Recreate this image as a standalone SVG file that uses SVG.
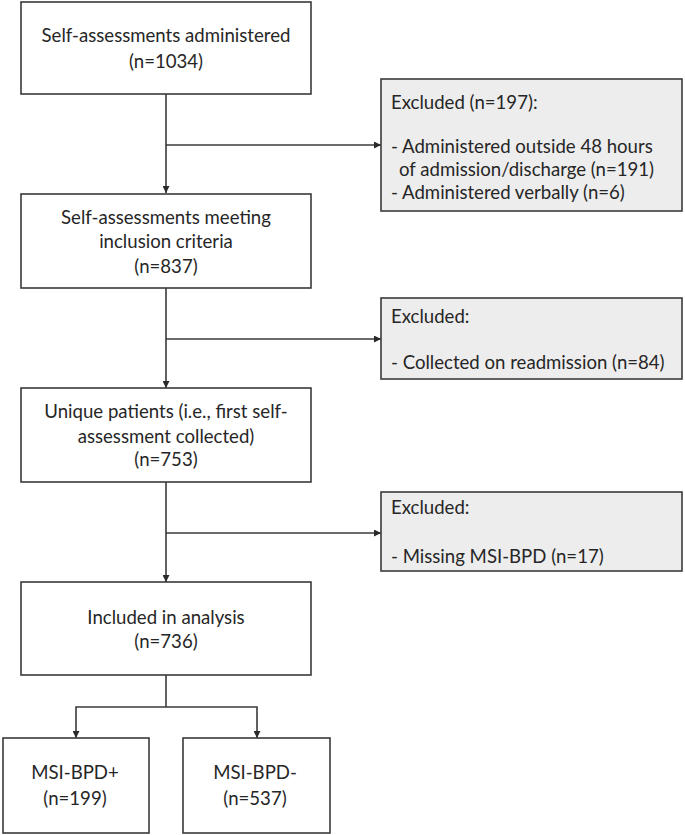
<svg xmlns="http://www.w3.org/2000/svg" width="685" height="835" viewBox="0 0 685 835">
<defs>
<style>
.box{fill:#ffffff;stroke:#3a3a3a;stroke-width:1.6}
.exc{fill:#ededed;stroke:#3a3a3a;stroke-width:1.6}
.t{font-family:Lato,"Liberation Sans",sans-serif;font-size:18.6px;fill:#262626}
.c{text-anchor:middle}
.ln{fill:none;stroke:#3a3a3a;stroke-width:1.6}
</style>
<marker id="ah" viewBox="0 0 10 10" refX="10" refY="5" markerWidth="7" markerHeight="7" markerUnits="userSpaceOnUse" orient="auto">
<path d="M0,0 L10,5 L0,10 z" fill="#2a2a2a"/>
</marker>
</defs>
<rect width="685" height="835" fill="#ffffff"/>
<g id="connectors">
<line class="ln" x1="166" y1="94" x2="166" y2="193" marker-end="url(#ah)"/>
<line class="ln" x1="166" y1="145" x2="381" y2="145" marker-end="url(#ah)"/>
<line class="ln" x1="166" y1="288" x2="166" y2="388" marker-end="url(#ah)"/>
<line class="ln" x1="166" y1="339" x2="381" y2="339" marker-end="url(#ah)"/>
<line class="ln" x1="166" y1="482" x2="166" y2="582" marker-end="url(#ah)"/>
<line class="ln" x1="166" y1="533" x2="381" y2="533" marker-end="url(#ah)"/>
<polyline class="ln" points="166,675 166,707"/>
<polyline class="ln" points="166,707 76,707 76,738" marker-end="url(#ah)"/>
<polyline class="ln" points="166,707 257,707 257,738" marker-end="url(#ah)"/>
</g>
<g id="n1">
<rect class="box" x="21" y="2" width="290" height="92"/>
<text class="t c" x="166" y="42">Self-assessments administered</text>
<text class="t c" x="166" y="68">(n=1034)</text>
</g>
<g id="e1">
<rect class="exc" x="381" y="79" width="301" height="132"/>
<text class="t" x="391" y="109">Excluded (n=197):</text>
<text class="t" x="391" y="153">- Administered outside 48 hours</text>
<text class="t" x="399" y="176">of admission/discharge (n=191)</text>
<text class="t" x="391" y="199">- Administered verbally (n=6)</text>
</g>
<g id="n2">
<rect class="box" x="21" y="194" width="290" height="94"/>
<text class="t c" x="166" y="224">Self-assessments meeting</text>
<text class="t c" x="166" y="248">inclusion criteria</text>
<text class="t c" x="166" y="273">(n=837)</text>
</g>
<g id="e2">
<rect class="exc" x="381" y="298" width="301" height="81"/>
<text class="t" x="391" y="323">Excluded:</text>
<text class="t" x="391" y="369">- Collected on readmission (n=84)</text>
</g>
<g id="n3">
<rect class="box" x="21" y="388" width="290" height="94"/>
<text class="t c" x="166" y="418">Unique patients (i.e., first self-</text>
<text class="t c" x="166" y="443">assessment collected)</text>
<text class="t c" x="166" y="466">(n=753)</text>
</g>
<g id="e3">
<rect class="exc" x="381" y="492" width="301" height="79"/>
<text class="t" x="391" y="514">Excluded:</text>
<text class="t" x="391" y="563">- Missing MSI-BPD (n=17)</text>
</g>
<g id="n4">
<rect class="box" x="21" y="582" width="290" height="93"/>
<text class="t c" x="166" y="624">Included in analysis</text>
<text class="t c" x="166" y="648">(n=736)</text>
</g>
<g id="n5">
<rect class="box" x="3" y="738" width="146" height="95"/>
<text class="t c" x="75" y="779">MSI-BPD+</text>
<text class="t c" x="75" y="805">(n=199)</text>
</g>
<g id="n6">
<rect class="box" x="183" y="738" width="147" height="95"/>
<text class="t c" x="255" y="779">MSI-BPD-</text>
<text class="t c" x="255" y="805">(n=537)</text>
</g>
</svg>
